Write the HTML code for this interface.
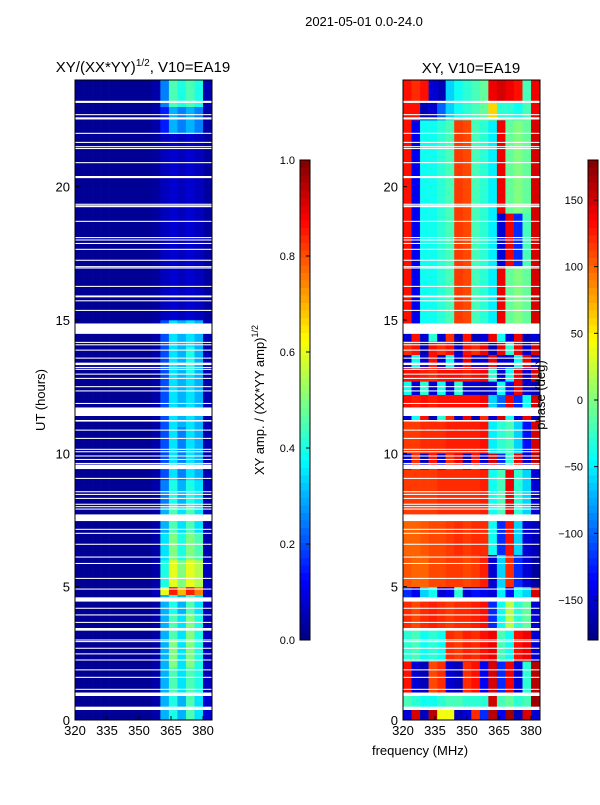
<!DOCTYPE html>
<html><head><meta charset="utf-8"><style>
body{margin:0;background:#fff;width:600px;height:800px;overflow:hidden;font-family:"Liberation Sans",sans-serif}
svg text{font-family:"Liberation Sans",sans-serif;fill:#000}
</style></head><body>
<svg id="fig" width="600" height="800" viewBox="0 0 600 800" xmlns="http://www.w3.org/2000/svg">
<text x="364" y="26" font-size="13" text-anchor="middle">2021-05-01 0.0-24.0</text>
<text x="143" y="72" font-size="15" text-anchor="middle">XY/(XX*YY)<tspan font-size="10" dy="-6">1/2</tspan><tspan dy="6">, V10=EA19</tspan></text>
<text x="471" y="73" font-size="15" text-anchor="middle">XY, V10=EA19</text>
<text transform="translate(45,400) rotate(-90)" font-size="13" text-anchor="middle">UT (hours)</text>
<text x="420" y="755" font-size="13" text-anchor="middle">frequency (MHz)</text>
<text transform="translate(264,400) rotate(-90)" font-size="13" text-anchor="middle">XY amp. / (XX*YY amp)<tspan font-size="9" dy="-6">1/2</tspan></text>
<g id="left"></g>
<g id="right"></g>
<g id="axes"></g>
<text transform="translate(545,395) rotate(-90)" font-size="13" text-anchor="middle">phase (deg)</text>
</svg>
<script>
const freqEdges=[320,324,328,332,336,340,344,348,352,356,360,364,368,372,376,380,384];
const xTicks=[320,335,350,365,380];
const yTicks=[0,5,10,15,20];
const ampTicks=[0.0,0.2,0.4,0.6,0.8,1.0];
const phaseTicks=[-150,-100,-50,0,50,100,150];
const d=0.02;
const ampRowStarts=[0,1,2,3,4,4.7,5.0,6,7,8,9,10,11,12,13,14,15,16,22,23];
const ampRows=[
[d,d,d,d,d,d,d,d,d,.04,.3,.4,.3,.45,.35,.08],
[d,d,d,d,d,d,d,d,d,.04,.3,.45,.35,.45,.4,.06],
[d,d,d,d,d,d,d,d,d,.04,.3,.5,.35,.5,.4,.06],
[d,d,d,d,d,d,d,d,d,.04,.3,.45,.35,.5,.4,.06],
[d,d,d,d,d,d,d,d,d,.04,.3,.4,.3,.45,.35,.06],
[d,d,d,d,d,d,d,d,d,.06,.6,.85,.7,.85,.75,.06],
[d,d,d,d,d,d,d,d,d,.04,.4,.6,.5,.6,.55,.06],
[d,d,d,d,d,d,d,d,d,.04,.35,.5,.4,.5,.45,.05],
[d,d,d,d,d,d,d,d,d,.04,.3,.45,.35,.45,.35,.05],
[d,d,d,d,d,d,d,d,d,.04,.25,.4,.3,.4,.35,.05],
[d,d,d,d,d,d,d,d,d,.04,.2,.35,.25,.35,.3,.05],
[d,d,d,d,d,d,d,d,d,.04,.2,.35,.25,.35,.3,.05],
[d,d,d,d,d,d,d,d,d,.04,.2,.35,.3,.35,.3,.05],
[d,d,d,d,d,d,d,d,d,.04,.2,.35,.3,.35,.3,.05],
[d,d,d,d,d,d,d,d,d,.04,.2,.35,.3,.4,.3,.05],
[d,d,d,d,d,d,d,d,d,.04,.2,.35,.3,.35,.3,.05],
[d,d,d,d,d,d,d,d,d,.03,.06,.08,.06,.08,.06,.03],
[d,d,d,d,d,d,d,d,d,.03,.06,.08,.06,.08,.06,.03],
[d,d,d,d,d,d,d,d,d,.04,.15,.3,.25,.3,.25,.04],
[d,d,d,d,d,d,d,d,d,.04,.25,.45,.4,.45,.4,.05]];
const phaseRowStarts=[0,0.4,1,2.2,3.4,4.5,5,6.2,7.7,9.4,10,11.2,11.7,12.2,12.7,13.2,13.7,14.2,14.8,17,19,22.5,23.2];
const phaseRows=[
[-150,150,-160,160,40,40,-160,-150,120,-120,160,-140,170,-160,150,-150],
[-20,-30,-40,-40,-30,-20,-20,-30,-30,-30,150,-20,-10,-30,-20,170],
[130,-150,-160,110,120,-150,-160,120,130,-140,150,-120,140,-150,-30,160],
[-30,-20,-40,-30,-40,120,115,125,120,130,140,-20,-40,130,140,-150],
[120,110,120,125,120,115,120,120,125,130,-120,-40,20,-30,-10,-150],
[-120,-140,-60,-40,-150,-140,-30,-150,-130,-140,-150,-50,-130,-40,-60,150],
[105,100,100,110,110,115,115,110,115,125,-150,-60,120,-120,-150,-170],
[100,100,105,110,110,115,120,115,120,120,-40,-120,130,-60,-150,-160],
[115,115,115,115,120,120,120,120,120,125,-40,-20,140,-30,-60,-150],
[-150,120,-160,130,-150,120,140,-160,130,-150,150,-120,-30,140,-150,160],
[115,115,120,120,120,125,125,125,125,130,-50,-30,-20,-60,-130,150],
[-150,-40,130,-160,-30,120,-150,140,-160,120,-150,150,-40,-150,140,-160],
[130,125,130,125,130,130,130,130,130,135,-60,-100,140,-120,-40,150],
[-40,-150,-30,-150,-40,-150,-30,-150,-150,-160,-150,-40,-130,140,-150,-160],
[130,130,125,120,130,130,130,125,130,135,-30,-150,-40,140,-150,150],
[-160,-40,-150,130,-150,-40,-150,140,-150,-150,140,-150,-150,-40,140,-150],
[120,130,-160,130,120,130,-150,130,120,140,-160,140,-30,140,-150,150],
[-150,130,-150,-30,-150,120,-160,130,-160,-150,140,-40,-150,140,-160,-150],
[130,-140,-40,-40,-30,-20,115,110,-20,-30,-50,140,-10,0,-10,150],
[130,-140,-40,-40,-30,-20,115,110,-20,-30,-50,-150,140,-120,-20,150],
[130,-140,-40,-40,-30,-20,115,110,-20,-30,-50,140,-10,0,-10,150],
[130,130,-160,-150,-100,-60,-40,-30,-20,-10,60,-30,-30,-40,-20,140],
[130,120,130,-150,-160,-60,-40,-30,-20,-10,140,150,140,130,-20,140]];
const gaps=[[23.14,23.22],[22.68,22.72],[22.52,22.6],[21.98,22.02],[21.64,21.68],[21.48,21.52],[21.41,21.45],[20.88,20.92],[20.32,20.4],[19.32,19.36],[19.23,19.3],[18.68,18.72],[18.07,18.11],[17.98,18.02],[17.85,17.89],[17.63,17.67],[17.22,17.26],[16.98,17.02],[16.93,16.97],[16.24,16.28],[15.88,15.92],[15.85,15.89],[15.7,15.74],[15.34,15.38],[14.48,14.87],[14.14,14.18],[14.05,14.09],[13.85,13.89],[13.55,13.59],[13.31,13.4],[13.2,13.24],[13.13,13.17],[12.95,12.99],[12.79,12.83],[12.48,12.52],[12.32,12.36],[11.85,11.89],[11.4,11.72],[11.19,11.25],[10.85,10.89],[10.54,10.58],[10.13,10.17],[10.04,10.08],[9.88,9.92],[9.75,9.79],[9.6,9.64],[9.41,9.58],[9.04,9.08],[8.54,8.58],[8.44,8.48],[8.29,8.33],[8.07,8.11],[7.98,8.02],[7.89,7.93],[7.46,7.71],[7.13,7.17],[6.98,7.02],[6.57,6.61],[6.09,6.13],[5.85,5.89],[5.29,5.33],[4.89,4.93],[4.44,4.6],[4.17,4.21],[3.92,3.96],[3.64,3.68],[3.35,3.45],[2.98,3.02],[2.92,2.96],[2.67,2.71],[2.46,2.5],[2.23,2.27],[1.86,1.9],[1.58,1.62],[1.13,1.17],[0.9,1.03],[0.375,0.5]];

const NS='http://www.w3.org/2000/svg';
const PT=80,PB=720,PW=137;
function yS(h){return PB-(h/24)*(PB-PT);}
function xS(x0,f){return x0+(f-320)*PW/64.2;}
function jet(v){v=Math.max(0,Math.min(1,v));const c=t=>Math.round(255*Math.max(0,Math.min(1,1.5-Math.abs(4*v-t))));return `rgb(${c(3)},${c(2)},${c(1)})`;}
function mk(tag,at,parent){const e=document.createElementNS(NS,tag);for(const k in at)e.setAttribute(k,at[k]);parent.appendChild(e);return e;}
function drawHeat(g,x0,starts,rows,norm){
  for(let i=0;i<rows.length;i++){
    const t0=starts[i],t1=i+1<starts.length?starts[i+1]:24;
    for(let j=0;j<rows[i].length;j++){
      const xa=xS(x0,freqEdges[j]),xb=Math.min(x0+PW,xS(x0,freqEdges[j+1]));
      const r=mk('rect',{x:xa,y:yS(t1),width:xb-xa+0.3,height:yS(t0)-yS(t1)+0.3,fill:jet(norm(rows[i][j]))},g);
      
      
    }
  }
  for(const gp of gaps){
    const r=mk('rect',{x:x0,y:yS(gp[1]),width:PW,height:Math.max(1,yS(gp[0])-yS(gp[1])),fill:'#fff'},g);
    
    
  }
}
const L=document.getElementById('left'),R=document.getElementById('right'),A=document.getElementById('axes');
drawHeat(L,75,ampRowStarts,ampRows,v=>v);
drawHeat(R,403,phaseRowStarts,phaseRows,v=>(v+180)/360);
function axes(x0,name){
  const f=mk('rect',{x:x0,y:PT,width:PW,height:PB-PT,fill:'none',stroke:'#000','stroke-width':1},A);
  
  
  for(const t of xTicks){const x=xS(x0,t);
    mk('line',{x1:x,x2:x,y1:PB,y2:PB-4,stroke:'#000'},A);
    const tx=mk('text',{x:x,y:PB+15,'font-size':13,'text-anchor':'middle'},A);tx.textContent=t;
    
    }
  for(const t of yTicks){const y=yS(t);
    mk('line',{x1:x0,x2:x0+4,y1:y,y2:y,stroke:'#000'},A);
    const tx=mk('text',{x:x0-5,y:y+5,'font-size':13,'text-anchor':'end'},A);tx.textContent=t;
    
    }
}
axes(75,'amplitude-axes');axes(403,'phase-axes');
function cbar(x0,lo,hi,ticks,fmt,name){
  const g=mk('g',{},A);
  
  
  const n=64,top=160,bot=640;
  for(let i=0;i<n;i++){mk('rect',{x:x0,y:bot-(i+1)*(bot-top)/n,width:10,height:(bot-top)/n+0.5,fill:jet((i+0.5)/n)},g);}
  mk('rect',{x:x0,y:top,width:10,height:bot-top,fill:'none',stroke:'#000'},g);
  for(const t of ticks){const y=bot-(t-lo)/(hi-lo)*(bot-top);
    mk('line',{x1:x0+6,x2:x0+10,y1:y,y2:y,stroke:'#000'},g);
    const tx=mk('text',{x:x0-5,y:y+4,'font-size':11,'text-anchor':'end'},g);tx.textContent=fmt(t);
    
    }
}
cbar(300,0,1,ampTicks,t=>t.toFixed(1),'amplitude-colorbar');
cbar(588,-180,180,phaseTicks,t=>t<0?'\u2212'+(-t):String(t),'phase-colorbar');
</script>
</body></html>
